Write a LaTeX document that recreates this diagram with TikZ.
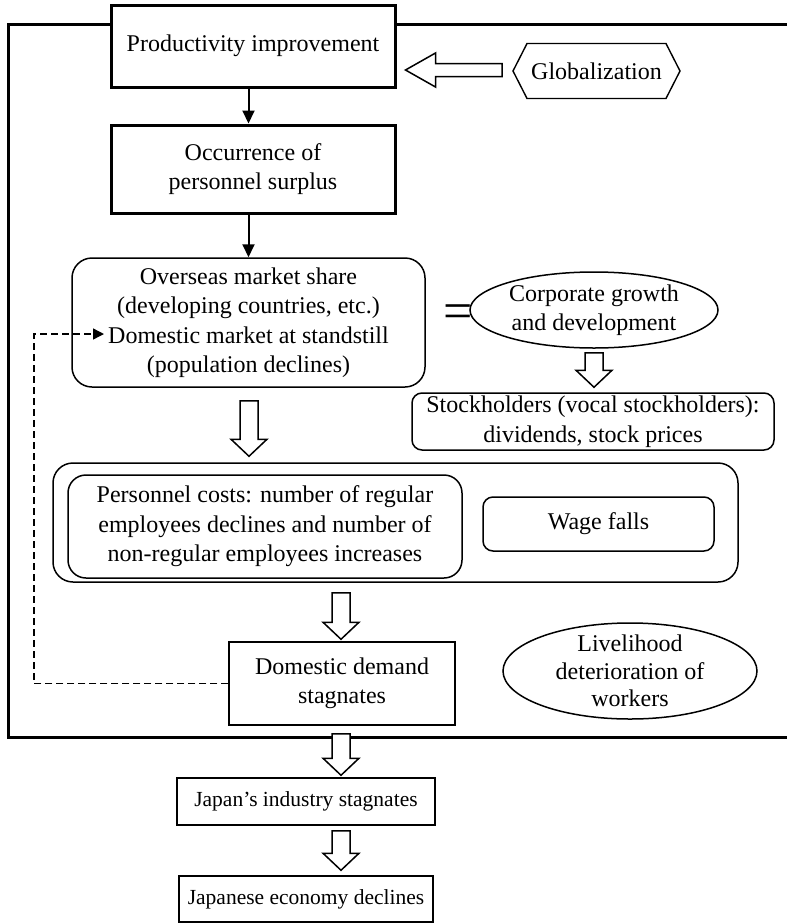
\documentclass[tikz,border=0pt]{standalone}
\usepackage{fontspec}
\setmainfont{Liberation Serif}
\usetikzlibrary{shapes.geometric,shapes.symbols,arrows.meta,calc}
\newcommand\harrowdown[2]{%
  \draw[harrow] let \p1=(#1), \p2=(#2) in
  (\x1-9pt,\y1) -- (\x1+9pt,\y1) -- (\x1+9pt,\y2+17pt) -- (\x1+18pt,\y2+17pt)
  -- (\x1,\y2) -- (\x1-18pt,\y2+17pt) -- (\x1-9pt,\y2+17pt) -- cycle;}
\begin{document}
\begin{tikzpicture}[x=1pt,y=-1pt,
  every node/.style={font=\fontsize{24}{29.5}\selectfont, align=center, inner sep=0pt},
  thickbox/.style={draw, line width=3pt, fill=white, rectangle},
  thinbox/.style={draw, line width=1.5pt, fill=white, rectangle},
  roundbox/.style={draw, line width=1.5pt, fill=white, rectangle, rounded corners=#1},
  ovalbox/.style={draw, line width=1.5pt, fill=white, ellipse},
  harrow/.style={draw, line width=1.5pt, fill=white, line join=miter},
  solidarrow/.style={line width=2pt, -{Triangle[length=13pt,width=12pt]}},
  dasharrow/.style={line width=1.4pt, dash pattern=on 7pt off 4pt, -{Triangle[length=11pt,width=11pt]}}]
\useasboundingbox (0,0) rectangle (787,924);
% outer frame
\draw[line width=3pt] (787,24) -- (8,24) -- (8,737) -- (787,737);

\node[thickbox, minimum width=284, minimum height=82] (prod) at (253,46) {Productivity improvement};
\node[signal, signal to=east and west, signal pointer angle=126, draw, line width=1.4pt,
      minimum width=167, minimum height=55] (glob) at (596.5,71) {Globalization};
\node[thickbox, minimum width=284, minimum height=88] (occ) at (253,169) {Occurrence of\\personnel surplus};
\node[roundbox=20pt, minimum width=353, minimum height=129] (over) at (248.5,322.5)
  {Overseas market share\\(developing countries, etc.)\\Domestic market at standstill\\(population declines)};
\node[font=\fontsize{52}{52}\selectfont] (eq) at (458,317) {=};
\node[ovalbox, minimum width=248, minimum height=76] (corp) at (594,310) {};
\node (corptext) at (corp) {Corporate growth\\and development};
\node[roundbox=10pt, minimum width=362, minimum height=57] (stock) at (593,421.5)
  {Stockholders (vocal stockholders):\\dividends, stock prices};
\node[roundbox=20pt, minimum width=685, minimum height=119] (big) at (395.5,522.5) {};
\node[roundbox=18pt, minimum width=394, minimum height=103] (pers) at (265,526.5)
  {Personnel costs: number of regular\\employees declines and number of\\non-regular employees increases};
\node[roundbox=10pt, minimum width=231, minimum height=54] (wage) at (598.5,524) {Wage falls};
\node[thinbox, minimum width=226, minimum height=83] (dom) at (342,683.5) {Domestic demand\\stagnates};
\node[ovalbox, minimum width=254, minimum height=96] (live) at (630,671) {};
\node[font=\fontsize{24}{27.5}\selectfont] (livetext) at (live) {Livelihood\\deterioration of\\workers};
\node[thinbox, minimum width=258, minimum height=47, font=\fontsize{21.5}{25}\selectfont] (japan) at (306,801.5) {Japan’s industry stagnates};
\node[thinbox, minimum width=254, minimum height=46, font=\fontsize{21.5}{25}\selectfont] (econ) at (306,899) {Japanese economy declines};

% solid arrows
\draw[solidarrow] (prod.south -| over.north) -- (over.north |- occ.north);
\draw[solidarrow] (occ.south -| over.north) -- (over.north);

% hollow left arrow from globalization
\coordinate (gs) at ($(glob.west)+(-10,-1)$);
\coordinate (ge) at ($(prod.east)+(9,0)$);
\draw[harrow] let \p1=(gs), \p2=(ge) in
  (\x1,\y1-6.5pt) -- (\x1,\y1+6.5pt) -- (\x2+30pt,\y1+6.5pt) -- (\x2+30pt,\y1+17pt)
  -- (\x2,\y1) -- (\x2+30pt,\y1-17pt) -- (\x2+30pt,\y1-6.5pt) -- cycle;

% hollow down arrows
\coordinate (a1s) at ($(over.south)+(0.5,13)$);
\coordinate (a1e) at ($(a1s |- big.north)+(0,-6)$);
\harrowdown{a1s}{a1e}
\coordinate (a2s) at ($(corp.south)+(0,4)$);
\coordinate (a2e) at ($(a2s |- stock.north)+(0,-5)$);
\harrowdown{a2s}{a2e}
\coordinate (a3s) at ($(big.south -| dom.north)+(-1,10)$);
\coordinate (a3e) at ($(a3s |- dom.north)+(0,-2)$);
\harrowdown{a3s}{a3e}
\coordinate (a4s) at ($(dom.south)+(-1,8)$);
\coordinate (a4e) at ($(a4s |- japan.north)+(0,-2)$);
\harrowdown{a4s}{a4e}
\coordinate (a5s) at ($(japan.south -| a4s)+(0,5)$);
\coordinate (a5e) at ($(a5s |- econ.north)+(0,-5)$);
\harrowdown{a5s}{a5e}

% dashed feedback
\coordinate (dleft) at (34,334);
\coordinate (dtip) at (104,334);
\draw[dasharrow] (dom.west) -| (dleft) -- (dtip);
\end{tikzpicture}
\end{document}
